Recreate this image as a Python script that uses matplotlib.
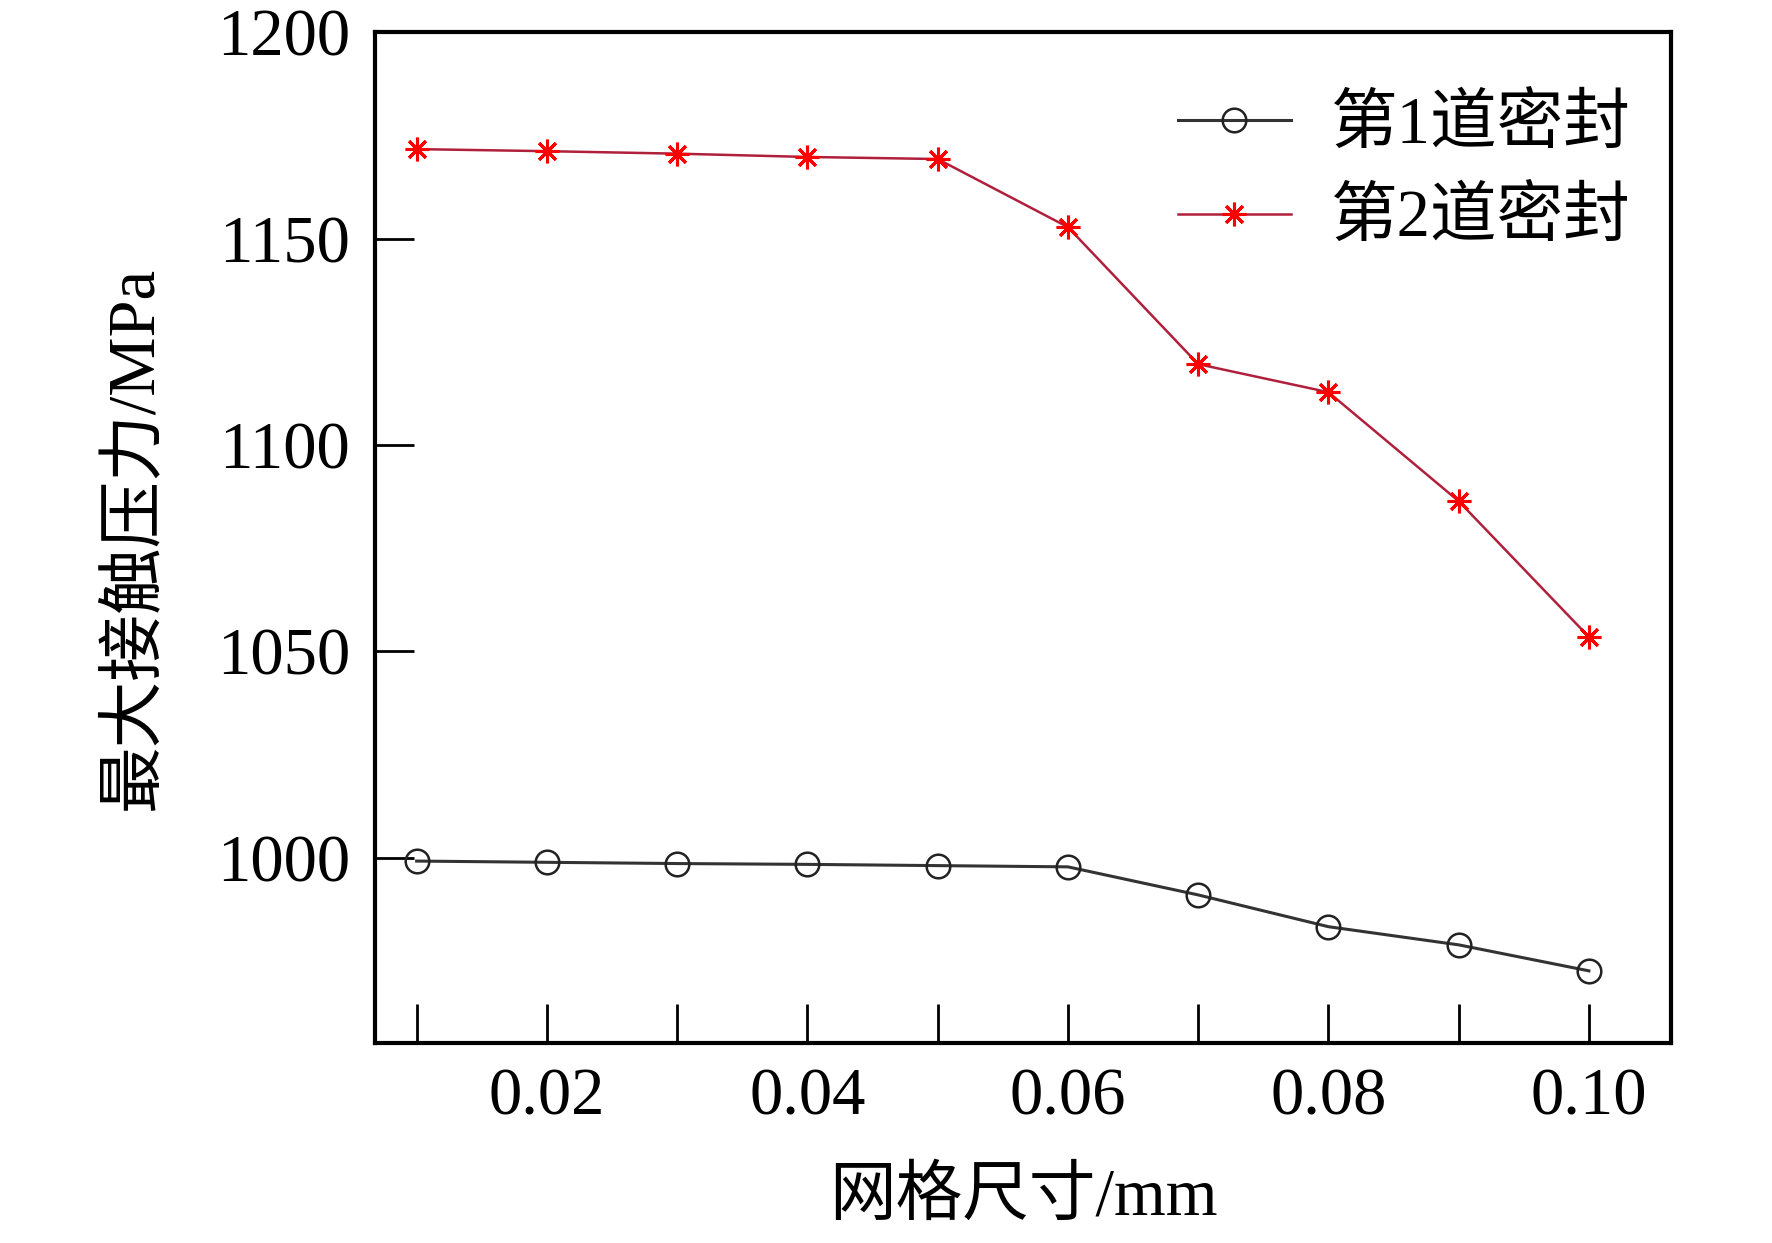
import numpy as np
import matplotlib.pyplot as plt
from matplotlib.ticker import MultipleLocator

# mesh size (mm) and max contact pressure (MPa)
mesh_size = [0.01, 0.02, 0.03, 0.04, 0.05, 0.06, 0.07, 0.08, 0.09, 0.10]
seal_1 = [999.2, 998.9, 998.6, 998.4, 998.1, 997.8, 991.0, 983.3, 978.9, 972.6]
seal_2 = [1171.7, 1171.2, 1170.6, 1169.8, 1169.3, 1152.8, 1119.6, 1112.8, 1086.4, 1053.5]
labels = ['第1道密封', '第2道密封']
x_ticks = [0.02, 0.04, 0.06, 0.08, 0.10]
y_ticks = [1000, 1050, 1100, 1150, 1200]

plt.rcParams['font.family'] = ['Liberation Serif', 'Noto Sans CJK SC']

fig = plt.figure(figsize=(17.72, 12.43), dpi=100)
ax = fig.add_axes([0.2116, 0.1605, 0.943 - 0.2116, 0.974 - 0.1605])

ax.plot(mesh_size, seal_1, color='#333333', lw=2.2, marker='o', ms=17,
        mfc='none', mec='#222222', mew=1.8, label=labels[0])
ax.plot(mesh_size, seal_2, color='#b0203c', lw=1.8, marker=(8, 2, 0), ms=17,
        mfc='red', mec='red', mew=2.2, label=labels[1])

ax.set_xlim(0.0068, 0.1063)
ax.set_ylim(955, 1200)
ax.set_xticks(x_ticks)
ax.set_xticklabels(['0.02', '0.04', '0.06', '0.08', '0.10'])
ax.xaxis.set_minor_locator(MultipleLocator(0.01))
ax.set_yticks(y_ticks)

ax.tick_params(axis='both', which='both', direction='in', labelsize=48,
               width=2, top=False, right=False)
ax.tick_params(axis='x', which='both', length=28, pad=17)
ax.tick_params(axis='y', which='major', length=28, pad=18)

for s in ax.spines.values():
    s.set_linewidth(3)

ax.set_xlabel('网格尺寸/mm', fontsize=48, labelpad=28)
ax.set_ylabel('最大接触压力/MPa', fontsize=48, labelpad=37)

ax.legend(loc='upper right', frameon=False, fontsize=48, handlelength=1.7,
          handletextpad=0.6, labelspacing=0.47, borderaxespad=0.2,
          bbox_to_anchor=(1.0, 0.977))

fig.savefig('out.png', dpi=100)
